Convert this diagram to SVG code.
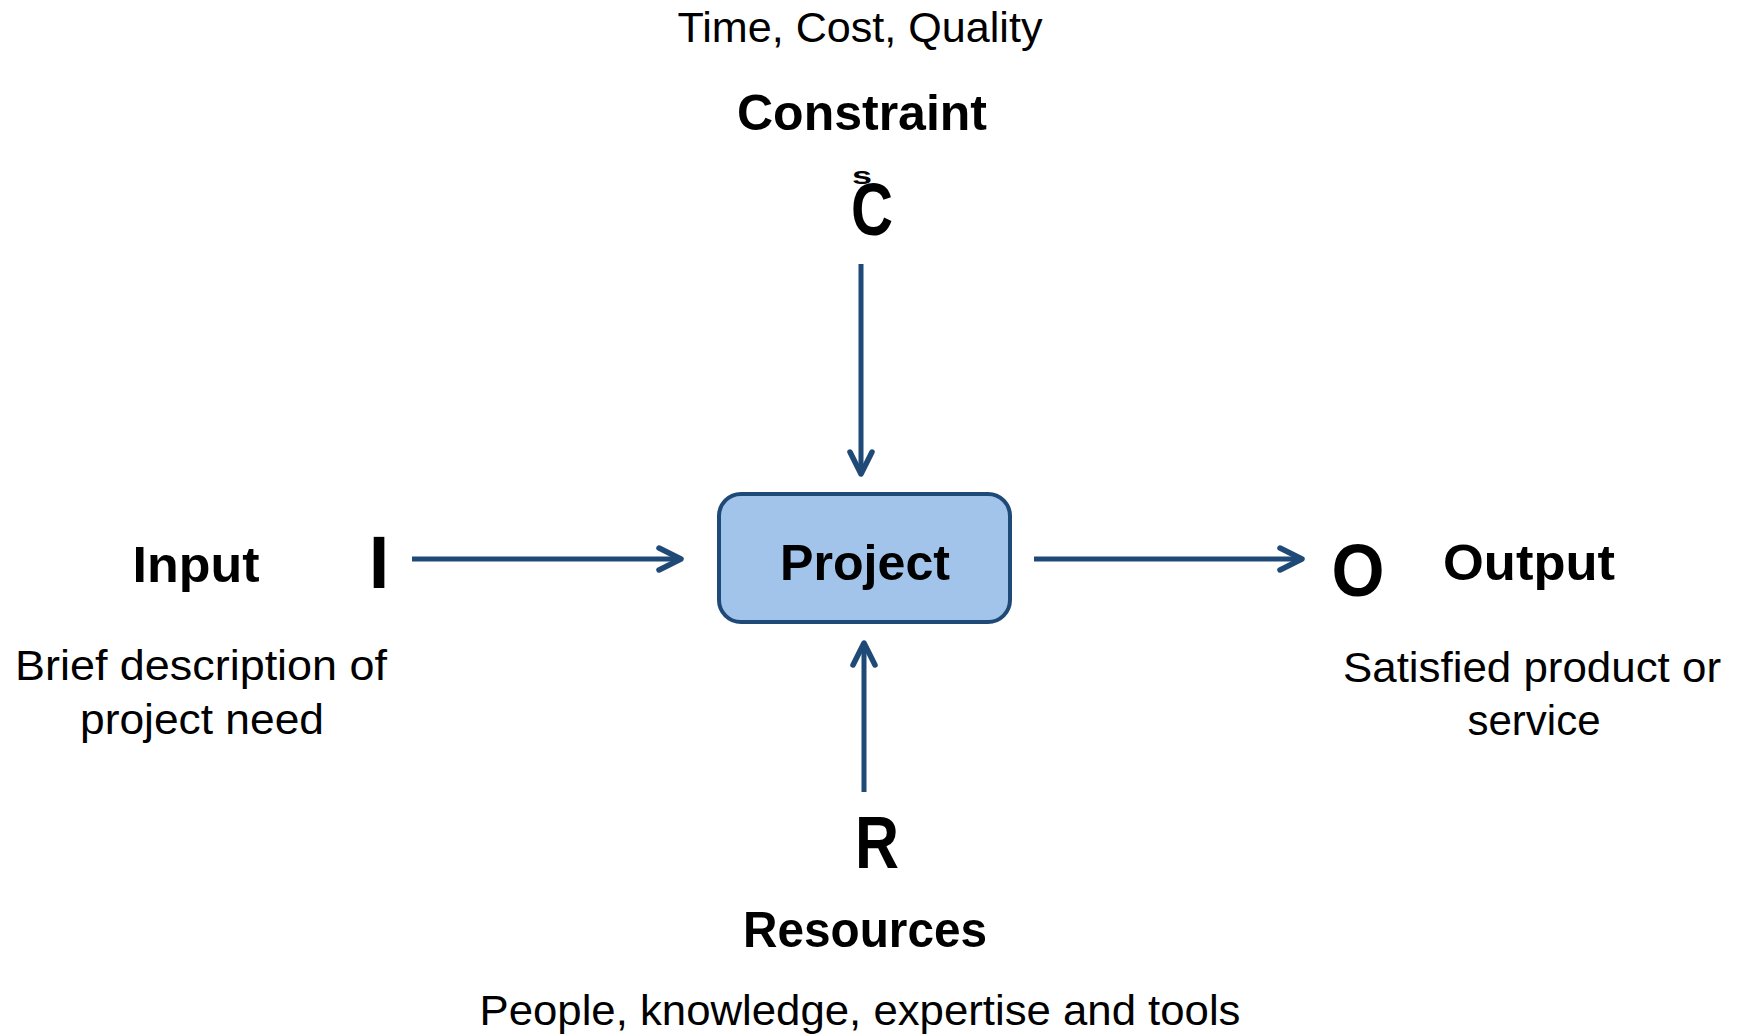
<svg xmlns="http://www.w3.org/2000/svg" width="1745" height="1034" viewBox="0 0 1745 1034">
<style>
  .reg { font-family: "Liberation Sans", Arial, sans-serif; font-size: 42px; fill: #000; text-anchor: middle; }
  .lbl { font-family: "Liberation Sans", Arial, sans-serif; font-size: 50px; font-weight: bold; fill: #000; text-anchor: middle; }
  .big { font-family: "Liberation Sans", Arial, sans-serif; font-size: 74px; font-weight: bold; fill: #000; text-anchor: middle; }
  .conn { stroke: #1F4A78; stroke-width: 5; fill: none; marker-end: url(#arrow); }
  .box { fill: #A2C4EA; stroke: #1F4A78; stroke-width: 4; }
</style>
<defs>
  <marker id="arrow" markerUnits="userSpaceOnUse" viewBox="-30 -16 34 32" refX="0" refY="0" markerWidth="34" markerHeight="32" orient="auto" overflow="visible">
    <path d="M-22,-11 L0,0 L-22,11" fill="none" stroke="#1F4A78" stroke-width="5.5" stroke-linecap="round" stroke-linejoin="round"/>
  </marker>
</defs>
<rect width="1745" height="1034" fill="#fff"/>

<g id="connectors">
  <line class="conn" x1="861" y1="264" x2="861" y2="474"/>
  <line class="conn" x1="412" y1="559" x2="681" y2="559"/>
  <line class="conn" x1="1034" y1="559" x2="1302" y2="559"/>
  <line class="conn" x1="864" y1="792" x2="864" y2="643"/>
</g>

<g id="project">
  <rect class="box" x="719" y="494" width="291" height="128" rx="22" ry="22"/>
  <text class="lbl" x="865" y="580" textLength="170" lengthAdjust="spacingAndGlyphs">Project</text>
</g>

<g id="constraint">
  <text class="reg" x="860" y="42" textLength="365" lengthAdjust="spacingAndGlyphs">Time, Cost, Quality</text>
  <text class="lbl" x="862" y="130" textLength="250" lengthAdjust="spacingAndGlyphs">Constraint</text>
  <text class="big" x="872" y="235" textLength="42" lengthAdjust="spacingAndGlyphs">C</text>
  <text class="lbl" x="862" y="184" style="font-size:23px" textLength="20" lengthAdjust="spacingAndGlyphs">s</text>
</g>

<g id="input">
  <text class="big" x="379" y="588">I</text>
  <text class="lbl" x="196" y="582" textLength="127" lengthAdjust="spacingAndGlyphs">Input</text>
  <text class="reg" x="201" y="680" textLength="372" lengthAdjust="spacingAndGlyphs">Brief description of</text>
  <text class="reg" x="202" y="734" textLength="244" lengthAdjust="spacingAndGlyphs">project need</text>
</g>

<g id="output">
  <text class="big" x="1358" y="596" textLength="53" lengthAdjust="spacingAndGlyphs">O</text>
  <text class="lbl" x="1529" y="580" textLength="172" lengthAdjust="spacingAndGlyphs">Output</text>
  <text class="reg" x="1532" y="682" textLength="378" lengthAdjust="spacingAndGlyphs">Satisfied product or</text>
  <text class="reg" x="1534" y="735">service</text>
</g>

<g id="resources">
  <text class="big" x="877" y="868" textLength="44" lengthAdjust="spacingAndGlyphs">R</text>
  <text class="lbl" x="865" y="947" textLength="244" lengthAdjust="spacingAndGlyphs">Resources</text>
  <text class="reg" x="860" y="1025" textLength="761" lengthAdjust="spacingAndGlyphs">People, knowledge, expertise and tools</text>
</g>
</svg>
